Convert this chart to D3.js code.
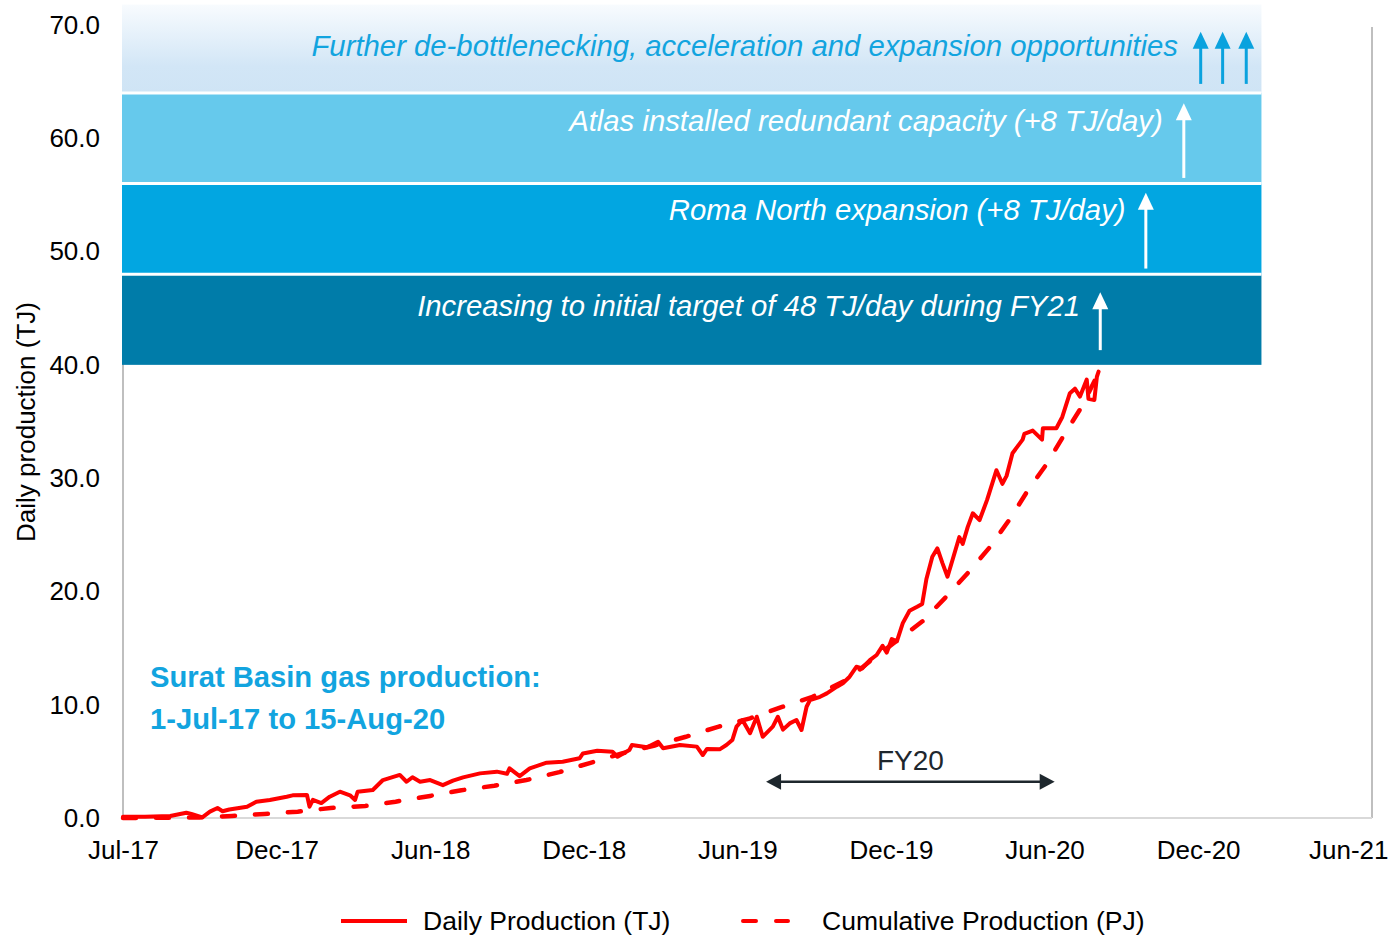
<!DOCTYPE html>
<html><head><meta charset="utf-8">
<script src="https://cdn.jsdelivr.net/npm/d3@7"></script>
<style>
body{margin:0;background:#fff}
svg{display:block}
text{font-family:"Liberation Sans",Arial,sans-serif}
</style>
</head><body>
<svg id="chart" width="1389" height="936"></svg>
<script>
// ---------------- DATA ----------------
const dailyDates = ["2017-07-01","2017-07-27","2017-08-26","2017-09-14","2017-09-20","2017-10-03","2017-10-12","2017-10-21","2017-10-27","2017-11-04","2017-11-25","2017-12-06","2017-12-22","2018-01-11","2018-01-18","2018-02-04","2018-02-07","2018-02-11","2018-02-21","2018-03-03","2018-03-15","2018-03-27","2018-04-02","2018-04-05","2018-04-23","2018-05-05","2018-05-25","2018-06-02","2018-06-09","2018-06-18","2018-06-30","2018-07-15","2018-07-27","2018-08-08","2018-08-28","2018-09-17","2018-09-29","2018-10-02","2018-10-14","2018-10-26","2018-11-15","2018-12-04","2018-12-24","2018-12-28","2019-01-14","2019-02-01","2019-02-07","2019-02-21","2019-02-24","2019-03-14","2019-03-27","2019-04-02","2019-04-22","2019-05-12","2019-05-19","2019-05-24","2019-06-08","2019-06-16","2019-06-23","2019-06-28","2019-07-05","2019-07-14","2019-07-22","2019-07-29","2019-08-10","2019-08-16","2019-08-22","2019-08-30","2019-09-07","2019-09-13","2019-09-19","2019-09-23","2019-10-05","2019-10-13","2019-10-25","2019-11-01","2019-11-09","2019-11-17","2019-11-24","2019-12-03","2019-12-11","2019-12-18","2019-12-23","2019-12-29","2020-01-04","2020-01-11","2020-01-19","2020-01-28","2020-02-03","2020-02-08","2020-02-15","2020-02-21","2020-02-27","2020-03-04","2020-03-10","2020-03-18","2020-03-22","2020-03-28","2020-04-03","2020-04-11","2020-04-20","2020-05-01","2020-05-08","2020-05-13","2020-05-20","2020-06-01","2020-06-03","2020-06-13","2020-06-24","2020-06-25","2020-07-11","2020-07-18","2020-07-27","2020-08-02","2020-08-08","2020-08-16","2020-08-18","2020-08-25","2020-08-28","2020-08-30"];
const dailyValues = [0.1,0.1,0.17,0.47,0.35,0.06,0.56,0.88,0.6,0.75,1.0,1.44,1.59,1.88,2.0,2.03,1.0,1.6,1.32,1.88,2.32,2.0,1.59,2.32,2.47,3.35,3.8,3.2,3.6,3.2,3.35,2.9,3.3,3.59,3.94,4.09,3.9,4.38,3.7,4.38,4.88,4.97,5.27,5.7,5.94,5.85,5.41,6.0,6.44,6.24,6.73,6.15,6.44,6.3,5.56,6.1,6.06,6.44,6.88,8.06,8.65,7.48,8.94,7.17,8.06,8.94,7.8,8.35,8.65,7.77,9.82,10.4,10.7,11.0,11.59,11.9,12.47,13.35,13.2,13.94,14.39,15.2,14.6,15.8,15.6,17.2,18.3,18.65,18.9,21.1,23.06,23.8,22.5,21.3,22.8,24.8,24.2,25.7,26.9,26.3,28.1,30.7,29.5,30.2,32.2,33.4,33.9,34.2,33.4,34.4,34.4,35.4,37.5,37.9,37.2,38.7,37.0,36.9,38.95,39.4];

const cumDates = ["2017-07-01","2017-09-30","2017-11-07","2017-12-16","2018-01-24","2018-03-04","2018-04-14","2018-05-20","2018-06-30","2018-08-06","2018-09-14","2018-10-22","2018-11-30","2019-01-05","2019-02-12","2019-03-23","2019-04-29","2019-06-06","2019-07-14","2019-08-21","2019-09-26","2019-11-06","2019-12-04","2020-01-05","2020-02-04","2020-03-02","2020-03-29","2020-04-23","2020-05-17","2020-06-07","2020-06-30","2020-07-20","2020-08-10","2020-08-30"];
const cumValues = [0.0,0.05,0.18,0.35,0.56,0.88,1.06,1.44,1.95,2.45,2.85,3.35,4.05,4.85,5.7,6.4,7.17,8.05,8.8,9.8,10.7,12.2,13.9,15.7,17.4,19.5,21.7,23.9,26.4,28.9,31.3,33.8,36.3,39.3];

const yTickValues = [0,10,20,30,40,50,60,70];
const xTickLabels = ["Jul-17","Dec-17","Jun-18","Dec-18","Jun-19","Dec-19","Jun-20","Dec-20","Jun-21"];

const bandLow  = [40,48,56,64];
const bandHigh = [48,56,64,71.8];
const bandTexts = ["Increasing to initial target of 48 TJ/day during FY21","Roma North expansion (+8 TJ/day)","Atlas installed redundant capacity (+8 TJ/day)","Further de-bottlenecking, acceleration and expansion opportunities"];
const bandTextEnd = ["2020-08-08","2020-10-01","2020-11-14","2020-12-02"];
const bandTextBase = [44.31,52.79,60.64,67.26];
const arrowDates = ["2020-09-01","2020-10-25","2020-12-09","2020-12-29","2021-01-24","2021-02-21"];
const arrowFrom  = [41.3,48.5,56.5,64.8,64.8,64.8];
const arrowTo    = [46.4,55.2,63.1,69.4,69.4,69.4];
const fyStart = "2019-08-02", fyEnd = "2020-07-09", fyValue = 3.2;

// ---------------- STYLES ----------------
const bandFill = ["#007ca9","#02a6e1","#66c9ec","url(#topGrad)"];
const arrowColor = ["#fff","#fff","#fff","#0aa2de","#0aa2de","#0aa2de"];
const textBlue = "#12a4df";

// ---------------- SCALES ----------------
const parse = d3.utcParse("%Y-%m-%d");
const startDate = parse("2017-07-01");
const x = d3.scaleUtc().domain([startDate, parse("2021-07-20")]).range([123, 1372]);
const y = d3.scaleLinear().domain([0, 70]).range([818, 25]);
const bandStart = startDate, bandEnd = parse("2021-03-11");

const svg = d3.select("#chart");
const defs = svg.append("defs");
const g = defs.append("linearGradient").attr("id","topGrad").attr("x1",0).attr("y1",0).attr("x2",0).attr("y2",1);
g.append("stop").attr("offset","0%").attr("stop-color","#f8fbfe");
g.append("stop").attr("offset","70%").attr("stop-color","#d2e6f6");
g.append("stop").attr("offset","100%").attr("stop-color","#cfe4f5");

// axis frame lines
svg.append("line").attr("x1",x(startDate)).attr("x2",x(startDate)).attr("y1",y(0)).attr("y2",y(70))
  .attr("stroke","#bfbfbf").attr("stroke-width",2);
svg.append("line").attr("x1",1372).attr("x2",1372).attr("y1",y(0)).attr("y2",27)
  .attr("stroke","#bfbfbf").attr("stroke-width",2);
svg.append("line").attr("x1",x(startDate)).attr("x2",1372).attr("y1",y(0)).attr("y2",y(0))
  .attr("stroke","#d9d9d9").attr("stroke-width",2);

// bands
const bandIdx = d3.range(bandLow.length);
svg.append("g").selectAll("rect").data(bandIdx).join("rect")
  .attr("x", x(bandStart) - 1)
  .attr("width", x(bandEnd) - x(bandStart) + 1)
  .attr("y", i => y(bandHigh[i]))
  .attr("height", i => y(bandLow[i]) - y(bandHigh[i]))
  .attr("fill", i => bandFill[i]);
svg.append("g").selectAll("line").data(bandLow.slice(1)).join("line")
  .attr("x1", x(bandStart) - 1).attr("x2", x(bandEnd))
  .attr("y1", d => y(d)).attr("y2", d => y(d))
  .attr("stroke","#fff").attr("stroke-width",3);

// band texts
svg.append("g").selectAll("text").data(bandIdx).join("text")
  .attr("x", i => x(parse(bandTextEnd[i])))
  .attr("y", i => y(bandTextBase[i]))
  .attr("text-anchor","end")
  .attr("font-style","italic")
  .attr("font-size", 29.3)
  .attr("fill", i => i === 3 ? textBlue : "#fff")
  .text(i => bandTexts[i]);

// arrows
const arrG = svg.append("g");
arrowDates.forEach((d, i) => {
  const ax = x(parse(d)), y0 = y(arrowFrom[i]), y1 = y(arrowTo[i]);
  arrG.append("line").attr("x1",ax).attr("x2",ax).attr("y1",y0).attr("y2",y1+12)
    .attr("stroke",arrowColor[i]).attr("stroke-width",3);
  arrG.append("path").attr("d",`M${ax},${y1} L${ax-8},${y1+17} L${ax+8},${y1+17} Z`)
    .attr("fill",arrowColor[i]);
});

// y axis
const yAxis = svg.append("g").attr("transform",`translate(${x(startDate)},0)`)
  .call(d3.axisLeft(y).tickValues(yTickValues).tickFormat(d3.format(".1f")).tickSize(0).tickPadding(23));
yAxis.select(".domain").remove();
yAxis.selectAll("text").attr("font-size",26).attr("fill","#000").attr("font-family",'"Liberation Sans",Arial,sans-serif');

// x axis
const xTickDates = xTickLabels.map((l, i) => d3.utcDay.offset(startDate, 182 * i));
const xAxis = svg.append("g").attr("transform",`translate(0,${y(0)})`)
  .call(d3.axisBottom(x).tickValues(xTickDates).tickFormat((d, i) => xTickLabels[i]).tickSize(0).tickPadding(23));
xAxis.select(".domain").remove();
xAxis.selectAll("text").attr("font-size",26).attr("fill","#000").attr("font-family",'"Liberation Sans",Arial,sans-serif');
// keep the last label inside the picture edge
xAxis.selectAll(".tick").filter((d, i) => i === xTickLabels.length - 1).select("text")
  .attr("text-anchor","end").attr("x", 1388 - x(xTickDates[xTickDates.length - 1]));

// y title
svg.append("text").attr("transform","translate(35,422) rotate(-90)")
  .attr("text-anchor","middle").attr("font-size",26).attr("fill","#000")
  .text("Daily production (TJ)");

// lines
const cumData = cumDates.map((d, i) => ({date: parse(d), v: cumValues[i]}));
const dailyData = dailyDates.map((d, i) => ({date: parse(d), v: dailyValues[i]}));
const line = d3.line().x(d => x(d.date)).y(d => y(d.v));
svg.append("path").datum(cumData).attr("d", line).attr("fill","none")
  .attr("stroke","#ff0000").attr("stroke-width",4.5).attr("stroke-dasharray","13,20").attr("stroke-linecap","round");
svg.append("path").datum(dailyData).attr("d", line).attr("fill","none")
  .attr("stroke","#ff0000").attr("stroke-width",4).attr("stroke-linejoin","round").attr("stroke-linecap","round");

// Surat text
svg.append("text").attr("x",150).attr("y",687).attr("font-size",29.2).attr("font-weight","bold")
  .attr("fill",textBlue).text("Surat Basin gas production:");
svg.append("text").attr("x",150).attr("y",729).attr("font-size",29.2).attr("font-weight","bold")
  .attr("fill",textBlue).text("1-Jul-17 to 15-Aug-20");

// FY20 arrow
const fx0 = x(parse(fyStart)), fx1 = x(parse(fyEnd)), fy = y(fyValue);
const fyCol = "#1e272d";
svg.append("line").attr("x1",fx0+10).attr("x2",fx1-10).attr("y1",fy).attr("y2",fy)
  .attr("stroke",fyCol).attr("stroke-width",2.5);
svg.append("path").attr("d",`M${fx0},${fy} L${fx0+15},${fy-8} L${fx0+15},${fy+8} Z`).attr("fill",fyCol);
svg.append("path").attr("d",`M${fx1},${fy} L${fx1-15},${fy-8} L${fx1-15},${fy+8} Z`).attr("fill",fyCol);
svg.append("text").attr("x",(fx0+fx1)/2).attr("y",fy-12).attr("text-anchor","middle")
  .attr("font-size",28).attr("fill",fyCol).text("FY20");

// legend
const leg = svg.append("g");
leg.append("line").attr("x1",341).attr("x2",407).attr("y1",921).attr("y2",921)
  .attr("stroke","#ff0000").attr("stroke-width",4);
leg.append("text").attr("x",423).attr("y",930).attr("font-size",26.5).attr("fill","#000").text("Daily Production (TJ)");
leg.append("line").attr("x1",743).attr("x2",788).attr("y1",921).attr("y2",921)
  .attr("stroke","#ff0000").attr("stroke-width",4).attr("stroke-dasharray","13,20").attr("stroke-linecap","round");
leg.append("text").attr("x",822).attr("y",930).attr("font-size",26.5).attr("fill","#000").text("Cumulative Production (PJ)");
</script>
</body></html>
